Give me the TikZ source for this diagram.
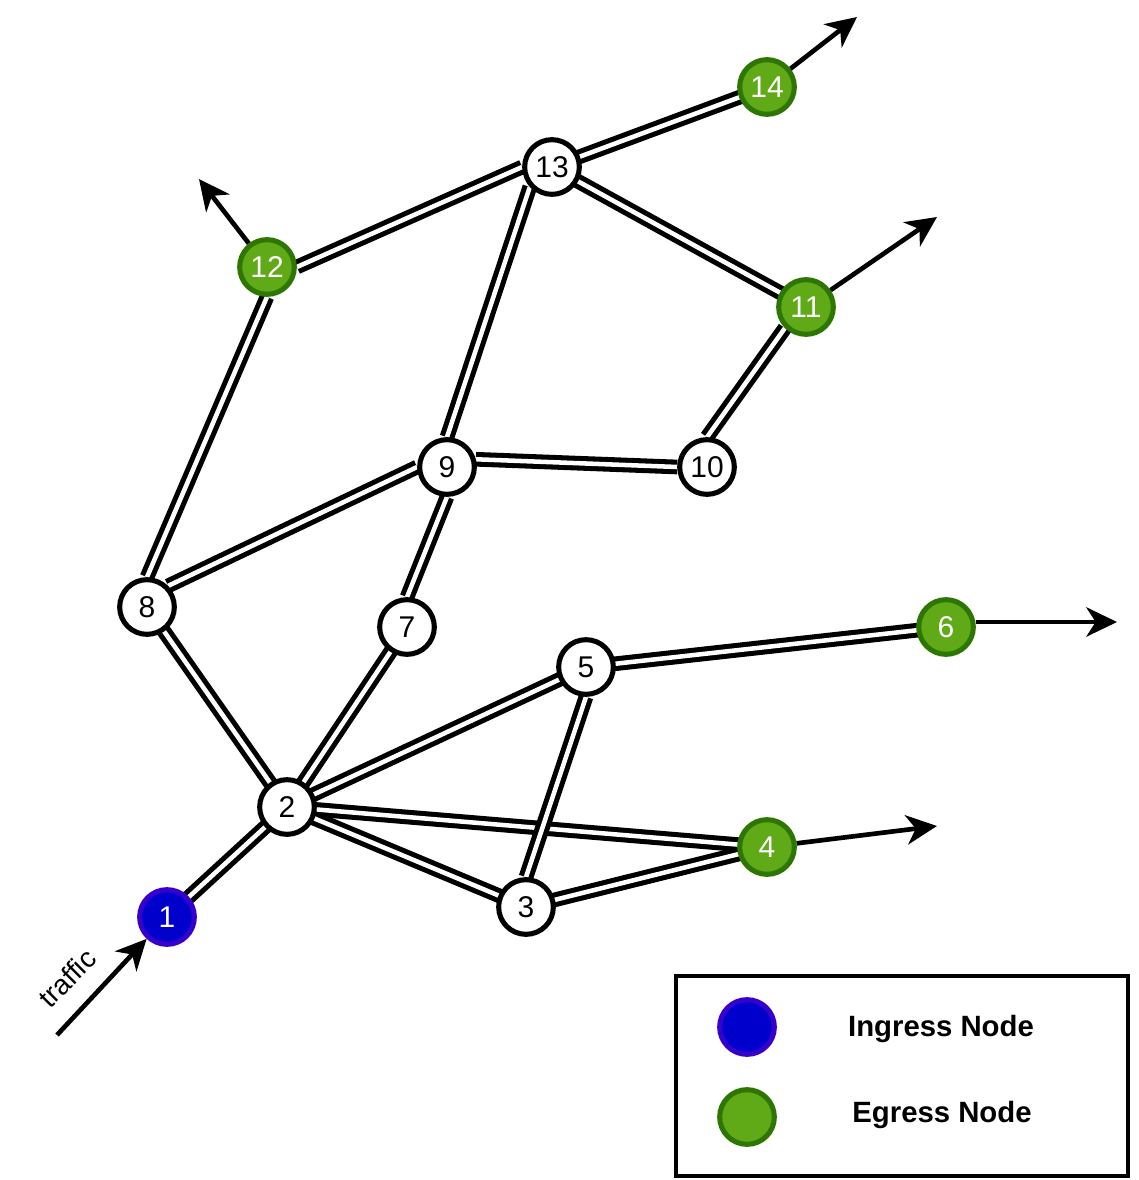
\documentclass[tikz,border=0pt]{standalone}
\usepackage{fontspec}
\setmainfont{Liberation Sans}
\usetikzlibrary{arrows.meta}

\definecolor{ingressfill}{RGB}{0,0,204}
\definecolor{ingressline}{RGB}{55,0,204}
\definecolor{egressfill}{RGB}{96,169,23}
\definecolor{egressline}{RGB}{45,118,0}

\pgfdeclarelayer{background}
\pgfsetlayers{background,main}

\tikzset{every picture/.style={line width=0.75pt}}
\tikzset{
  plain/.style={circle, draw=black, line width=3.8pt, fill=white, minimum size=41pt, inner sep=0pt, font=\fontsize{22.5}{24}\selectfont},
  ingress/.style={plain, draw=ingressline, fill=ingressfill, text=white},
  egress/.style={plain, draw=egressline, fill=egressfill, text=white},
  link/.style={draw=black, line width=3.8pt, double=white, double distance=3.4pt},
  flow/.style={draw=black, line width=3.5pt, -{Stealth[length=23pt, width=22pt, inset=7pt]}},
}

\begin{document}
\begin{tikzpicture}[x=0.75pt,y=0.75pt,yscale=-1,xscale=1]
\useasboundingbox (0,0) rectangle (1138,1180);

%Shape: Circle
\draw (167,917) node [ingress] (n1) {1};
\draw (287,807) node [plain] (n2) {2};
\draw (526,907) node [plain] (n3) {3};
\draw (767,847) node [egress] (n4) {4};
\draw (586,667) node [plain] (n5) {5};
\draw (946,627) node [egress] (n6) {6};
\draw (407,627) node [plain] (n7) {7};
\draw (147,607) node [plain] (n8) {8};
\draw (447,467) node [plain] (n9) {9};
\draw (707,467) node [plain] (n10) {10};
\draw (806,307) node [egress] (n11) {11};
\draw (267,267) node [egress] (n12) {12};
\draw (552,167) node [plain] (n13) {13};
\draw (767,87) node [egress] (n14) {14};

%Straight Lines (links, behind the nodes)
\begin{pgfonlayer}{background}
\foreach \a/\b in {n1/n2, n2/n8, n2/n7, n2/n5, n2/n4, n2/n3, n3/n4, n5/n6, n11/n13, n13/n14}
  \draw [link] (\a.center) -- (\b.center);
\draw [link] (n3.north) -- (n5.south);
\draw [link] (n7.north) -- (n9.south);
\draw [link] (n8.45) -- (n9.180);
\draw [link] (n8.north) -- (n12.south);
\draw [link] (n9.north) -- (n13.222);
\draw [link] (n9.15) -- (n10.west);
\draw [link] (n10.north) -- (n11.225);
\draw [link] (n12.east) -- (n13.west);
\end{pgfonlayer}

%Straight Lines (traffic arrows)
\coordinate (src) at (57,1035);
\coordinate (out12) at (199,179);
\coordinate (out14) at (857,17);
\coordinate (out11) at (937,217);
\coordinate (out6) at (1117,622);
\coordinate (out4) at (937,826);
\draw [flow] (src) -- (n1);
\draw [flow] (n12) -- (out12);
\draw [flow] (n14) -- (out14);
\draw [flow] (n11) -- (out11);
\draw [flow] ([yshift=-3.75pt]n6.east) -- (out6);
\draw [flow] (n4) -- (out4);

% Text Node
\draw (67,978) node [rotate=45, inner sep=0pt, font=\fontsize{21}{22}\selectfont] (traffic) {traffic};

%Shape: Rectangle (legend)
\draw [line width=3.2pt] (676,976) rectangle (1128,1176);
\draw (747,1027) node [ingress] (legin) {};
\draw (747,1117) node [egress] (legeg) {};
% Text Node
\draw (941,1029) node [font=\bfseries\fontsize{22}{24}\selectfont] (txtin) {Ingress Node};
\draw (942,1115) node [font=\bfseries\fontsize{22}{24}\selectfont] (txteg) {Egress Node};

\end{tikzpicture}
\end{document}
